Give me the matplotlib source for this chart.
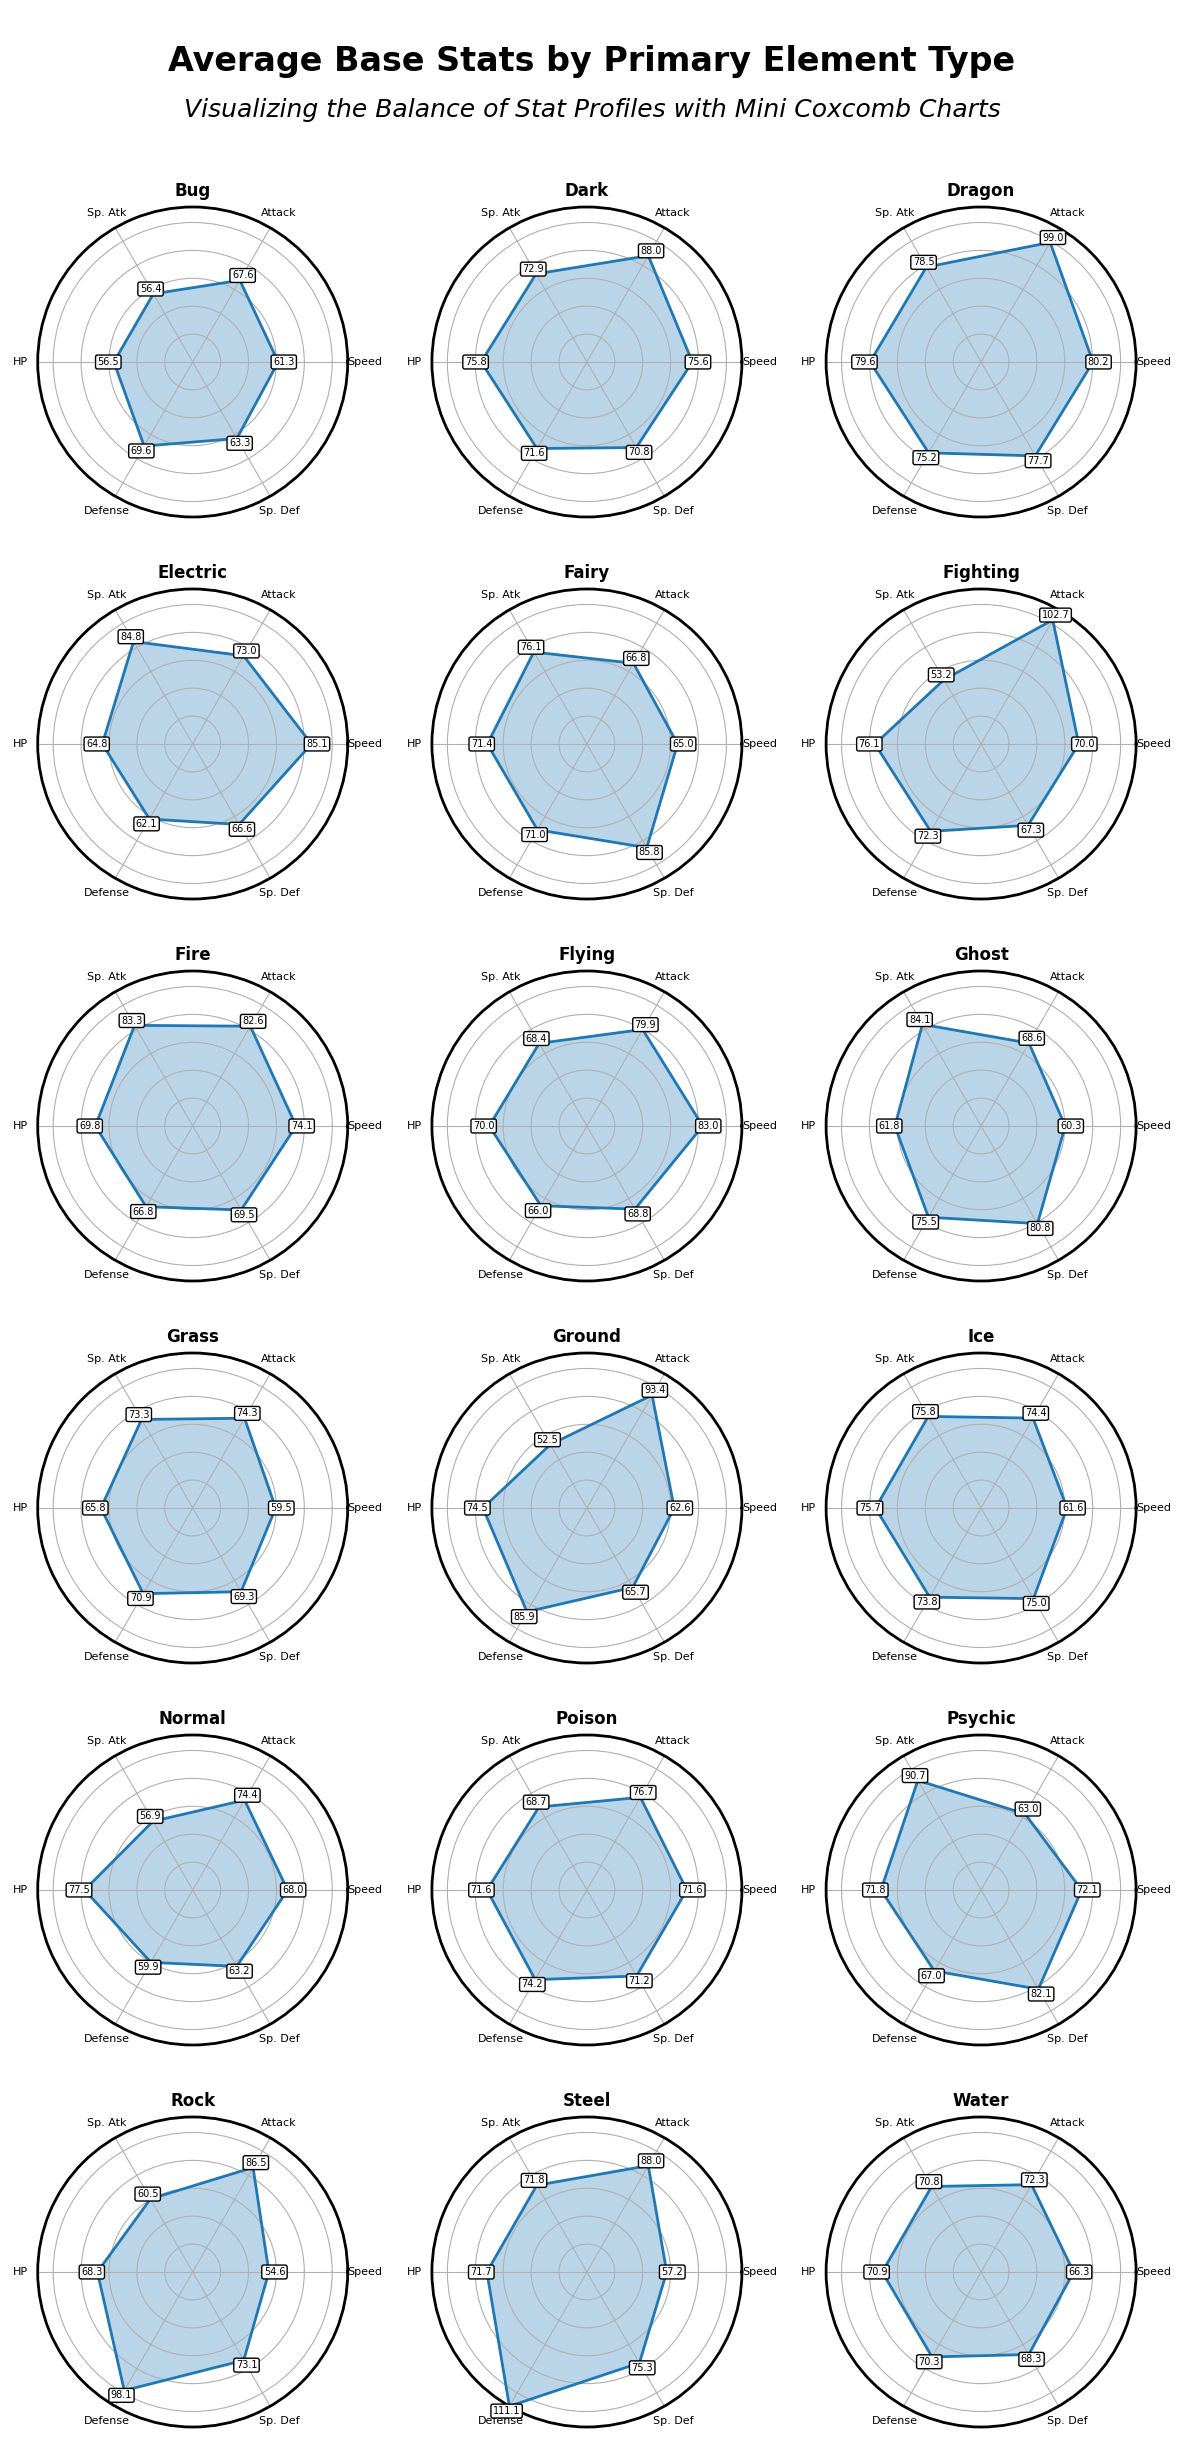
import numpy as np
import matplotlib
matplotlib.use("Agg")
import matplotlib.pyplot as plt

stats = ["Speed", "Attack", "Sp. Atk", "HP", "Defense", "Sp. Def"]
types = ["Bug", "Dark", "Dragon", "Electric", "Fairy", "Fighting",
         "Fire", "Flying", "Ghost", "Grass", "Ground", "Ice",
         "Normal", "Poison", "Psychic", "Rock", "Steel", "Water"]

bug = [61.3, 67.6, 56.4, 56.5, 69.6, 63.3]
dark = [75.6, 88.0, 72.9, 75.8, 71.6, 70.8]
dragon = [80.2, 99.0, 78.5, 79.6, 75.2, 77.7]
electric = [85.1, 73.0, 84.8, 64.8, 62.1, 66.6]
fairy = [65.0, 66.8, 76.1, 71.4, 71.0, 85.8]
fighting = [70.0, 102.7, 53.2, 76.1, 72.3, 67.3]
fire = [74.1, 82.6, 83.3, 69.8, 66.8, 69.5]
flying = [83.0, 79.9, 68.4, 70.0, 66.0, 68.8]
ghost = [60.3, 68.6, 84.1, 61.8, 75.5, 80.8]
grass = [59.5, 74.3, 73.3, 65.8, 70.9, 69.3]
ground = [62.6, 93.4, 52.5, 74.5, 85.9, 65.7]
ice = [61.6, 74.4, 75.8, 75.7, 73.8, 75.0]
normal = [68.0, 74.4, 56.9, 77.5, 59.9, 63.2]
poison = [71.6, 76.7, 68.7, 71.6, 74.2, 71.2]
psychic = [72.1, 63.0, 90.7, 71.8, 67.0, 82.1]
rock = [54.6, 86.5, 60.5, 68.3, 98.1, 73.1]
steel = [57.2, 88.0, 71.8, 71.7, 111.1, 75.3]
water = [66.3, 72.3, 70.8, 70.9, 70.3, 68.3]

values = [bug, dark, dragon, electric, fairy, fighting,
          fire, flying, ghost, grass, ground, ice,
          normal, poison, psychic, rock, steel, water]

rings = [20, 40, 60, 80, 100]

W, H = 1184, 2439
fig = plt.figure(figsize=(W / 100, H / 100), dpi=100)

fig.text(0.5, 1 - 62 / H, "Average Base Stats by Primary Element Type",
         ha="center", va="center", fontsize=24, fontweight="bold")
fig.text(0.5, 1 - 110 / H, "Visualizing the Balance of Stat Profiles with Mini Coxcomb Charts",
         ha="center", va="center", fontsize=18, fontstyle="italic")

n = len(stats)
angles = np.linspace(0, 2 * np.pi, n, endpoint=False)
rmax = max(max(v) for v in values)

diam = 310
cx0, dx = 192.7, 394.2
cy0, dy = 362.0, 382.0

for i, (name, vals) in enumerate(zip(types, values)):
    r, c = divmod(i, 3)
    cx = cx0 + c * dx
    cy = cy0 + r * dy
    ax = fig.add_axes([(cx - diam / 2) / W, 1 - (cy + diam / 2) / H, diam / W, diam / H],
                      projection="polar")
    a = np.concatenate([angles, angles[:1]])
    v = np.array(vals + vals[:1])
    ax.fill(a, v, color="#1f77b4", alpha=0.3)
    ax.plot(a, v, color="#1f77b4", linewidth=2)
    ax.set_ylim(0, rmax)
    ax.set_yticks(rings)
    ax.set_yticklabels([])
    ax.set_xticks(angles)
    ax.set_xticklabels(stats, fontsize=8)
    ax.tick_params(axis="x", pad=2)
    ax.spines["polar"].set_linewidth(2)
    ax.spines["polar"].set_color("black")
    for ang, val in zip(angles, vals):
        ax.text(ang, val + 4, f"{val:.1f}", ha="center", va="center", fontsize=7,
                bbox=dict(boxstyle="round,pad=0.2", facecolor="white", edgecolor="black", linewidth=1))
    ax.set_title(name, fontsize=12, fontweight="bold", pad=8)

fig.savefig("out.png", dpi=100)
